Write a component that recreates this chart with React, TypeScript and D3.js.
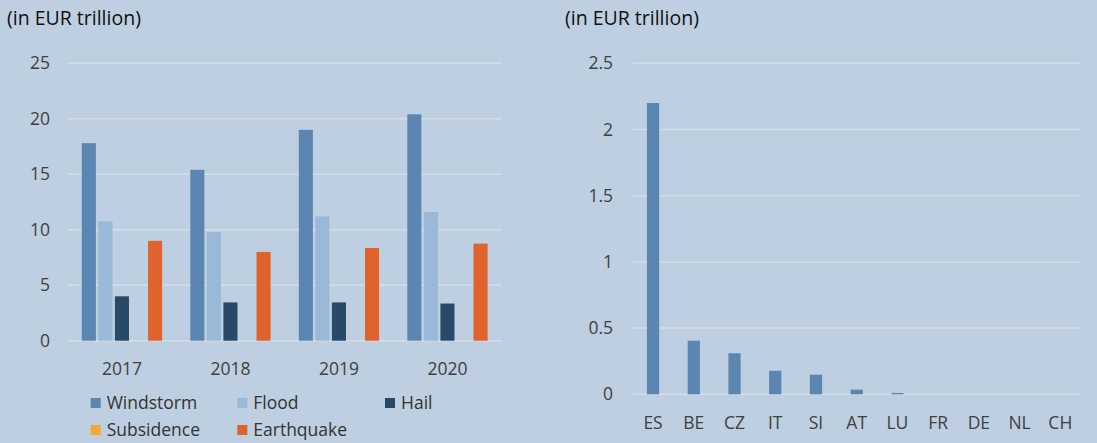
import React from 'react';
import * as d3 from 'd3';

// left panel: exposure by peril and year
const years = ['2017', '2018', '2019', '2020'];
const perils = ['Windstorm', 'Flood', 'Hail', 'Subsidence', 'Earthquake'];
const windstorm = [17.8, 15.4, 19.0, 20.4];
const flood = [10.75, 9.8, 11.2, 11.6];
const hail = [4.0, 3.45, 3.45, 3.35];
const subsidence = [0, 0, 0, 0];
const earthquake = [9.0, 8.0, 8.35, 8.75];
const leftTicks = [0, 5, 10, 15, 20, 25];

// right panel: by country
const countries = ['ES', 'BE', 'CZ', 'IT', 'SI', 'AT', 'LU', 'FR', 'DE', 'NL', 'CH'];
const countryValues = [2.2, 0.405, 0.31, 0.178, 0.148, 0.035, 0.01, 0, 0, 0, 0];
const rightTicks = [0, 0.5, 1, 1.5, 2, 2.5];

const colors = ['#5b86b1', '#9ab8d8', '#284a68', '#f7a534', '#e0622c'];
const seriesValues = [windstorm, flood, hail, subsidence, earthquake];

const BG = '#bdcfe0';
const GRID = '#d6dde6';
const FONT = '"Open Sans", sans-serif';
const TICK = 17.5;
const TITLE = 19.5;

const LeftChart = () => {
  const y = d3.scaleLinear().domain([0, 25]).range([340.7, 63.3]);
  const x0 = d3.scaleBand().domain(years).range([67.7, 501.7]).paddingInner(0.26).paddingOuter(0.13);
  const x1 = d3.scaleBand().domain(perils).range([0, x0.bandwidth()]).paddingInner(0.15);
  const legendCols = [90.7, 237.3, 385];

  return (
    <g>
      <text x={7} y={25} fontSize={TITLE} fill="#111" fontFamily={FONT}>(in EUR trillion)</text>
      {leftTicks.map(t => (
        <g key={t}>
          <line x1={67.7} x2={501.7} y1={y(t)} y2={y(t)} stroke={GRID} strokeWidth={1.5} />
          <text x={50} y={y(t)} dy="0.35em" textAnchor="end" fontSize={TICK} fill="#404040" fontFamily={FONT}>{t}</text>
        </g>
      ))}
      {years.map((yr, i) => (
        <g key={yr} transform={`translate(${x0(yr)},0)`}>
          {perils.map((p, j) => (
            <rect key={p} x={x1(p)} width={x1.bandwidth()} y={y(seriesValues[j][i])}
              height={y(0) - y(seriesValues[j][i])} fill={colors[j]} />
          ))}
          <text x={x0.bandwidth() / 2} y={369} dy="0.35em" textAnchor="middle" fontSize={TICK} fill="#404040" fontFamily={FONT}>{yr}</text>
        </g>
      ))}
      {perils.map((p, j) => {
        const lx = legendCols[j % 3];
        const ly = j < 3 ? 403 : 430;
        return (
          <g key={p}>
            <rect x={lx} y={ly - 5} width={10} height={10} fill={colors[j]} />
            <text x={lx + 16} y={ly} dy="0.35em" fontSize={TICK} fill="#333" fontFamily={FONT}>{p}</text>
          </g>
        );
      })}
    </g>
  );
};

const RightChart = () => {
  const y = d3.scaleLinear().domain([0, 2.5]).range([394.3, 63.3]);
  const x = d3.scaleBand().domain(countries).range([632.7, 1080.7]).paddingInner(0.7).paddingOuter(0.35);
  const fmt = d3.format('~g');

  return (
    <g>
      <text x={565} y={25} fontSize={TITLE} fill="#111" fontFamily={FONT}>(in EUR trillion)</text>
      {rightTicks.map(t => (
        <g key={t}>
          <line x1={632.7} x2={1080} y1={y(t)} y2={y(t)} stroke={GRID} strokeWidth={1.5} />
          <text x={613} y={y(t)} dy="0.35em" textAnchor="end" fontSize={TICK} fill="#404040" fontFamily={FONT}>{fmt(t)}</text>
        </g>
      ))}
      {countries.map((c, i) => (
        <g key={c}>
          {countryValues[i] > 0 && (
            <rect x={x(c)} width={x.bandwidth()} y={y(countryValues[i])}
              height={y(0) - y(countryValues[i])} fill={colors[0]} />
          )}
          <text x={(x(c) as number) + x.bandwidth() / 2} y={423} dy="0.35em" textAnchor="middle" fontSize={TICK} fill="#404040" fontFamily={FONT}>{c}</text>
        </g>
      ))}
    </g>
  );
};

export default function App() {
  return (
    <svg width={1097} height={443} style={{ position: 'absolute', left: 0, top: 0, display: 'block' }}>
      <rect width={1097} height={443} fill={BG} />
      <LeftChart />
      <RightChart />
    </svg>
  );
}
